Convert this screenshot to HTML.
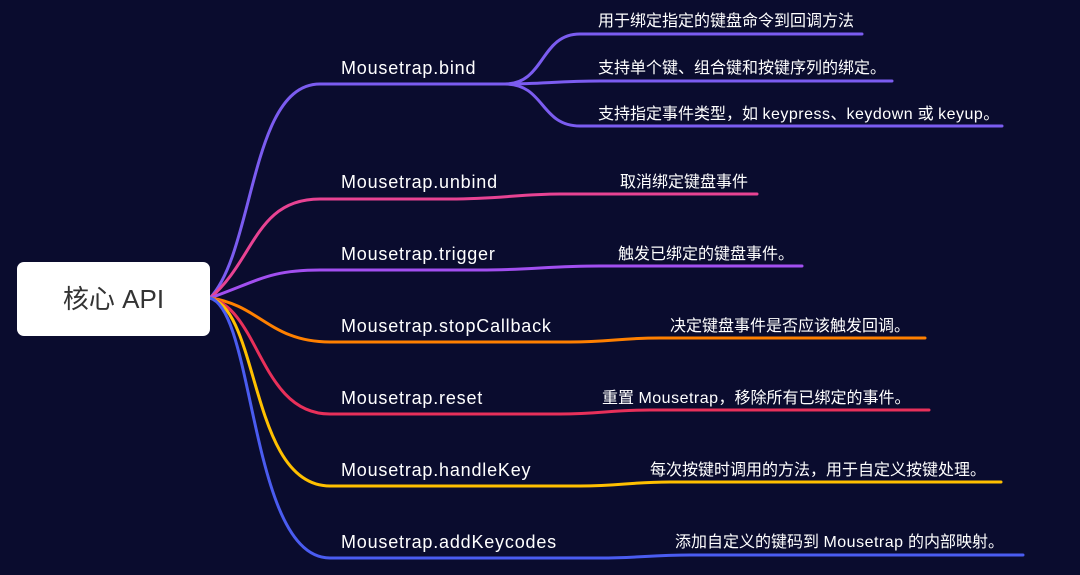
<!DOCTYPE html>
<html><head><meta charset="utf-8"><style>
html,body{margin:0;padding:0;background:#0a0c2e;}
.wrap{position:relative;width:1080px;height:575px;overflow:hidden;background:#0a0c2e;font-family:"Liberation Sans","Noto Sans CJK SC",sans-serif;}
.root{position:absolute;left:17px;top:262px;width:193px;height:74px;background:#fff;border-radius:7px;color:#333;font-size:26px;line-height:74px;text-align:center;}
.l{position:absolute;left:341px;color:#fff;font-size:18px;letter-spacing:0.8px;white-space:nowrap;line-height:20px;}
.s{position:absolute;color:#fff;font-size:16px;white-space:nowrap;line-height:18px;}
.s span{letter-spacing:0.5px;}
svg{position:absolute;left:0;top:0;}
</style></head><body><div class="wrap">
<svg width="1080" height="575" fill="none" stroke-width="3" stroke-linecap="round">
<path d="M210 298 C255 250,250 84,320 84 L510 84" stroke="#7b5cf0"/>
<path d="M505 84 C545 84,540 34,580 34 L862 34" stroke="#7b5cf0"/>
<path d="M505 84 C540 84,560 81,600 81 L892 81" stroke="#7b5cf0"/>
<path d="M505 84 C545 84,540 126,580 126 L1002 126" stroke="#7b5cf0"/>
<path d="M210 298 C255 260,255 199,320 199 L450 199 C500 199,520 194,560 194 L757 194" stroke="#e84393"/>
<path d="M210 298 C260 280,270 270,320 270 L480 270 C530 270,550 266,600 266 L802 266" stroke="#a24ff0"/>
<path d="M210 298 C260 305,270 342,330 342 L570 342 C610 342,620 338,660 338 L925 338" stroke="#ff8000"/>
<path d="M210 298 C260 310,260 414,330 414 L560 414 C600 414,610 410,650 410 L929 410" stroke="#e8305a"/>
<path d="M210 298 C260 310,250 486,330 486 L580 486 C620 486,630 482,670 482 L1001 482" stroke="#ffc000"/>
<path d="M210 298 C255 310,250 558,330 558 L600 558 C640 558,650 555,690 555 L1023 555" stroke="#4a5cf0"/>
</svg>
<div class="root">核心 API</div>
<div class="l" style="top:58px">Mousetrap.bind</div>
<div class="l" style="top:172px">Mousetrap.unbind</div>
<div class="l" style="top:244px">Mousetrap.trigger</div>
<div class="l" style="top:316px">Mousetrap.stopCallback</div>
<div class="l" style="top:388px">Mousetrap.reset</div>
<div class="l" style="top:460px">Mousetrap.handleKey</div>
<div class="l" style="top:532px">Mousetrap.addKeycodes</div>
<div class="s" style="left:598px;top:13px">用于绑定指定的键盘命令到回调方法</div>
<div class="s" style="left:598px;top:60px">支持单个键、组合键和按键序列的绑定。</div>
<div class="s" style="left:598px;top:106px">支持指定事件类型，如 <span>keypress</span>、<span>keydown</span> 或 <span>keyup</span>。</div>
<div class="s" style="left:620px;top:174px">取消绑定键盘事件</div>
<div class="s" style="left:618px;top:246px">触发已绑定的键盘事件。</div>
<div class="s" style="left:670px;top:318px">决定键盘事件是否应该触发回调。</div>
<div class="s" style="left:602px;top:390px">重置 <span>Mousetrap</span>，移除所有已绑定的事件。</div>
<div class="s" style="left:650px;top:462px">每次按键时调用的方法，用于自定义按键处理。</div>
<div class="s" style="left:675px;top:534px">添加自定义的键码到 <span>Mousetrap</span> 的内部映射。</div>
</div></body></html>
